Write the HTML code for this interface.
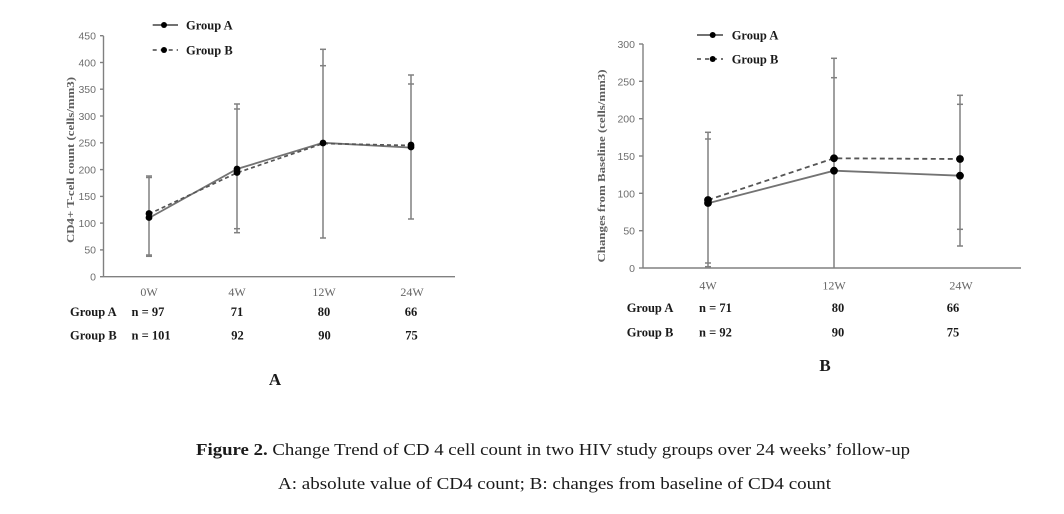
<!DOCTYPE html>
<html><head><meta charset="utf-8"><style>
html,body{margin:0;padding:0;background:#fff;}
svg{display:block;}
.tk{font-family:"Liberation Sans",sans-serif;font-size:10.5px;fill:#6e6e6e;}
.cat{font-family:"Liberation Serif",serif;font-size:12px;fill:#666;}
.b{font-family:"Liberation Serif",serif;font-weight:bold;fill:#1a1a1a;}
</style></head><body>
<svg width="1064" height="514" viewBox="0 0 1064 514" xmlns="http://www.w3.org/2000/svg">
<rect width="1064" height="514" fill="#fff"/>

<!-- ===== Chart A ===== -->
<g stroke="#808080" stroke-width="1.4" fill="none">
  <line x1="103.5" y1="36" x2="103.5" y2="277"/>
  <line x1="103.5" y1="276.7" x2="455" y2="276.7"/>
  <line x1="100" y1="276.7" x2="103.5" y2="276.7"/>
  <line x1="100" y1="249.9" x2="103.5" y2="249.9"/>
  <line x1="100" y1="223.1" x2="103.5" y2="223.1"/>
  <line x1="100" y1="196.4" x2="103.5" y2="196.4"/>
  <line x1="100" y1="169.6" x2="103.5" y2="169.6"/>
  <line x1="100" y1="142.8" x2="103.5" y2="142.8"/>
  <line x1="100" y1="116.0" x2="103.5" y2="116.0"/>
  <line x1="100" y1="89.2" x2="103.5" y2="89.2"/>
  <line x1="100" y1="62.5" x2="103.5" y2="62.5"/>
  <line x1="100" y1="35.7" x2="103.5" y2="35.7"/>
</g>
<g class="tk" text-anchor="end">
  <text x="96" y="280.5">0</text>
  <text x="96" y="253.7">50</text>
  <text x="96" y="226.9">100</text>
  <text x="96" y="200.2">150</text>
  <text x="96" y="173.4">200</text>
  <text x="96" y="146.6">250</text>
  <text x="96" y="119.8">300</text>
  <text x="96" y="93">350</text>
  <text x="96" y="66.3">400</text>
  <text x="96" y="39.5">450</text>
</g>
<text transform="translate(74,160) rotate(-90)" text-anchor="middle" font-family="Liberation Serif,serif" font-weight="bold" font-size="10.5" fill="#5e5e5e" textLength="166" lengthAdjust="spacingAndGlyphs">CD4+ T-cell count (cells/mm3)</text>

<!-- error bars A -->
<g stroke="#808080" stroke-width="1.5" fill="none">
  <line x1="149" y1="176" x2="149" y2="256.3"/>
  <line x1="146" y1="176" x2="152" y2="176"/><line x1="146" y1="177.5" x2="152" y2="177.5"/>
  <line x1="146" y1="255" x2="152" y2="255"/><line x1="146" y1="256.3" x2="152" y2="256.3"/>
  <line x1="237" y1="104" x2="237" y2="232.7"/>
  <line x1="234" y1="104" x2="240" y2="104"/><line x1="234" y1="109" x2="240" y2="109"/>
  <line x1="234" y1="228.7" x2="240" y2="228.7"/><line x1="234" y1="232.7" x2="240" y2="232.7"/>
  <line x1="323" y1="49.3" x2="323" y2="238"/>
  <line x1="320" y1="49.3" x2="326" y2="49.3"/><line x1="320" y1="65.7" x2="326" y2="65.7"/>
  <line x1="320" y1="238" x2="326" y2="238"/>
  <line x1="411" y1="75" x2="411" y2="219"/>
  <line x1="408" y1="75" x2="414" y2="75"/><line x1="408" y1="84" x2="414" y2="84"/>
  <line x1="408" y1="219" x2="414" y2="219"/>
</g>
<polyline points="149,218 237,169 323,142.8 411,147.6" fill="none" stroke="#737373" stroke-width="1.8"/>
<polyline points="149,214 237,172.8 323,143.5 411,145.5" fill="none" stroke="#555" stroke-width="1.7" stroke-dasharray="4,3"/>
<g fill="#000">
  <circle cx="149" cy="217.5" r="3.4"/><circle cx="149" cy="213.5" r="3.4"/>
  <circle cx="237" cy="169" r="3.4"/><circle cx="237" cy="172.5" r="3.4"/>
  <circle cx="323" cy="143" r="3.4"/>
  <circle cx="411" cy="147" r="3.4"/><circle cx="411" cy="145" r="3.4"/>
</g>
<!-- legend A -->
<line x1="152.7" y1="25" x2="178" y2="25" stroke="#444" stroke-width="1.4"/>
<circle cx="164" cy="25" r="3" fill="#000"/>
<line x1="152.7" y1="50" x2="178" y2="50" stroke="#444" stroke-width="1.4" stroke-dasharray="4,4"/>
<circle cx="164" cy="50" r="3" fill="#000"/>
<text class="b" x="186" y="29.5" font-size="12.5">Group A</text>
<text class="b" x="186" y="54.5" font-size="12.5">Group B</text>
<!-- categories A -->
<g class="cat" text-anchor="middle">
  <text x="149" y="296">0W</text>
  <text x="237" y="296">4W</text>
  <text x="324" y="296">12W</text>
  <text x="412" y="296">24W</text>
</g>
<g class="b" font-size="12.5">
  <text x="70" y="316">Group A</text>
  <text x="131.5" y="316">n = 97</text>
  <text x="237" y="316" text-anchor="middle">71</text>
  <text x="324" y="316" text-anchor="middle">80</text>
  <text x="411" y="316" text-anchor="middle">66</text>
  <text x="70" y="339.5">Group B</text>
  <text x="131.5" y="339.5">n = 101</text>
  <text x="237.5" y="339.5" text-anchor="middle">92</text>
  <text x="324.5" y="339.5" text-anchor="middle">90</text>
  <text x="411.5" y="339.5" text-anchor="middle">75</text>
</g>
<text class="b" x="275" y="385" font-size="17" text-anchor="middle">A</text>

<!-- ===== Chart B ===== -->
<g stroke="#808080" stroke-width="1.4" fill="none">
  <line x1="643" y1="44" x2="643" y2="268.5"/>
  <line x1="643" y1="268" x2="1021" y2="268"/>
  <line x1="639" y1="268" x2="643" y2="268"/>
  <line x1="639" y1="230.7" x2="643" y2="230.7"/>
  <line x1="639" y1="193.3" x2="643" y2="193.3"/>
  <line x1="639" y1="156" x2="643" y2="156"/>
  <line x1="639" y1="118.7" x2="643" y2="118.7"/>
  <line x1="639" y1="81.3" x2="643" y2="81.3"/>
  <line x1="639" y1="44" x2="643" y2="44"/>
</g>
<g class="tk" text-anchor="end" font-size="11">
  <text x="635" y="272">0</text>
  <text x="635" y="234.7">50</text>
  <text x="635" y="197.3">100</text>
  <text x="635" y="160">150</text>
  <text x="635" y="122.7">200</text>
  <text x="635" y="85.3">250</text>
  <text x="635" y="48">300</text>
</g>
<text transform="translate(605,166) rotate(-90)" text-anchor="middle" font-family="Liberation Serif,serif" font-weight="bold" font-size="11" fill="#5e5e5e" textLength="193" lengthAdjust="spacingAndGlyphs">Changes from Baseline (cells/mm3)</text>

<g stroke="#808080" stroke-width="1.5" fill="none">
  <line x1="708" y1="132.3" x2="708" y2="266.7"/>
  <line x1="705" y1="132.3" x2="711" y2="132.3"/><line x1="705" y1="139" x2="711" y2="139"/>
  <line x1="705" y1="263" x2="711" y2="263"/><line x1="705" y1="266.7" x2="711" y2="266.7"/>
  <line x1="834" y1="58.3" x2="834" y2="268"/>
  <line x1="831" y1="58.3" x2="837" y2="58.3"/><line x1="831" y1="77.7" x2="837" y2="77.7"/>
  <line x1="960" y1="95.3" x2="960" y2="246"/>
  <line x1="957" y1="95.3" x2="963" y2="95.3"/><line x1="957" y1="104.3" x2="963" y2="104.3"/>
  <line x1="957" y1="229.3" x2="963" y2="229.3"/><line x1="957" y1="246" x2="963" y2="246"/>
</g>
<polyline points="708,203.3 834,170.7 960,175.7" fill="none" stroke="#737373" stroke-width="1.8"/>
<polyline points="708,200 834,158.3 960,159" fill="none" stroke="#555" stroke-width="1.8" stroke-dasharray="5,3.5"/>
<g fill="#000">
  <circle cx="708" cy="203" r="3.9"/><circle cx="708" cy="200" r="3.9"/>
  <circle cx="834" cy="170.7" r="3.9"/><circle cx="834" cy="158.3" r="3.9"/>
  <circle cx="960" cy="175.7" r="3.9"/><circle cx="960" cy="159" r="3.9"/>
</g>
<line x1="697" y1="35" x2="723" y2="35" stroke="#444" stroke-width="1.4"/>
<circle cx="712.7" cy="35" r="3" fill="#000"/>
<line x1="697" y1="59" x2="723" y2="59" stroke="#444" stroke-width="1.4" stroke-dasharray="4,4"/>
<circle cx="712.7" cy="59" r="3" fill="#000"/>
<text class="b" x="731.7" y="39.5" font-size="12.5">Group A</text>
<text class="b" x="731.7" y="63.5" font-size="12.5">Group B</text>
<g class="cat" text-anchor="middle">
  <text x="708" y="289.5">4W</text>
  <text x="834" y="289.5">12W</text>
  <text x="961" y="289.5">24W</text>
</g>
<g class="b" font-size="12.5">
  <text x="626.7" y="312">Group A</text>
  <text x="699" y="312">n = 71</text>
  <text x="838" y="312" text-anchor="middle">80</text>
  <text x="953" y="312" text-anchor="middle">66</text>
  <text x="626.7" y="336.5">Group B</text>
  <text x="699" y="336.5">n = 92</text>
  <text x="838" y="336.5" text-anchor="middle">90</text>
  <text x="953" y="336.5" text-anchor="middle">75</text>
</g>
<text class="b" x="825" y="371" font-size="17" text-anchor="middle">B</text>

<!-- caption -->
<text x="196" y="455" font-family="Liberation Serif,serif" font-size="16.5" fill="#1a1a1a" textLength="714" lengthAdjust="spacingAndGlyphs"><tspan font-weight="bold">Figure 2.</tspan> Change  Trend  of CD 4 cell count in two HIV study  groups over 24 weeks’  follow-up</text>
<text x="278" y="489" font-family="Liberation Serif,serif" font-size="16.5" fill="#1a1a1a" textLength="553" lengthAdjust="spacingAndGlyphs">A: absolute value of CD4 count; B: changes  from baseline  of CD4 count</text>
</svg>
</body></html>
